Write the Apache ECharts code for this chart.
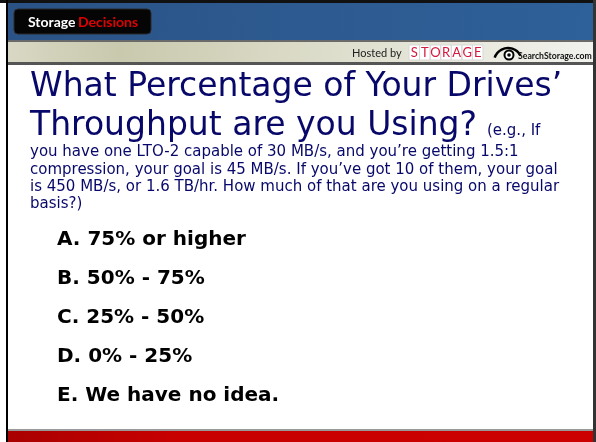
<!DOCTYPE html>
<html><head><meta charset="utf-8">
<script src="https://cdn.jsdelivr.net/npm/echarts@6/dist/echarts.min.js"></script>
<style>html,body{margin:0;padding:0;background:#fff}#c{width:596px;height:442px}</style>
</head><body><div id="c"></div>
<script>
// Slide content
const brand = ["Storage ", "Decisions"];
const hostedBy = "Hosted by";
const storageLetters = ["S","T","O","R","A","G","E"];
const siteName = "SearchStorage.com";
const titleLines = ["What Percentage of Your Drives\u2019", "Throughput are you Using?"];
const titleNote = "(e.g., If";
const bodyLines = [
  "you have one LTO-2 capable of 30 MB/s, and you\u2019re getting 1.5:1",
  "compression, your goal is 45 MB/s. If you\u2019ve got 10 of them, your goal",
  "is 450 MB/s, or 1.6 TB/hr. How much of that are you using on a regular",
  "basis?)"
];
const options = ["A. 75% or higher", "B. 50% - 75%", "C. 25% - 50%", "D. 0% - 25%", "E. We have no idea."];

const chart = echarts.init(document.getElementById('c'), null, {renderer: 'canvas'});
const F = 'DejaVu Sans, Verdana, sans-serif';
const L = 'Lato, "Open Sans", sans-serif';
const NAVY = '#08086a';
const g = [];
g.push({type:'rect', shape:{x:0,y:0,width:596,height:442}, style:{fill:'#fff'}});
// blue header
g.push({type:'rect', shape:{x:0,y:0,width:596,height:40}, style:{fill:new echarts.graphic.LinearGradient(0,0,1,1,[{offset:0,color:'#2a5285'},{offset:0.5,color:'#2d5a90'},{offset:1,color:'#2e6099'}])}});
g.push({type:'rect', shape:{x:0,y:0,width:596,height:3}, style:{fill:'#111'}});
// brand box
g.push({type:'rect', shape:{x:14,y:9,width:137,height:25,r:4}, style:{fill:'#050505', stroke:'#2a2a2a', lineWidth:1}});
g.push({type:'text', x:28, y:22.5, style:{text:brand[0], font:'bold 14px '+L, fill:'#fff', verticalAlign:'middle'}});
g.push({type:'text', x:78, y:22.5, style:{text:brand[1], font:'bold 14px '+L, fill:'#e00000', verticalAlign:'middle'}});
// beige band
g.push({type:'rect', shape:{x:0,y:40,width:596,height:2}, style:{fill:'#6a6a6a'}});
g.push({type:'rect', shape:{x:0,y:42,width:596,height:20}, style:{fill:new echarts.graphic.LinearGradient(0,0,1,0,[{offset:0,color:'#d9d9c6'},{offset:0.2,color:'#c9c9ae'},{offset:0.6,color:'#e0e0d0'},{offset:1,color:'#f2f2ee'}])}});
g.push({type:'rect', shape:{x:0,y:62,width:596,height:3}, style:{fill:'#555'}});
// hosted by
g.push({type:'text', x:352, y:53, style:{text:hostedBy, font:'11px '+L, fill:'#222', verticalAlign:'middle'}});
g.push({type:'rect', shape:{x:409,y:45,width:74,height:15}, style:{fill:'#fff'}});
storageLetters.forEach((s,i)=>{
  g.push({type:'rect', shape:{x:409+i*10.57,y:45,width:10.57,height:15}, style:{fill:'none', stroke:'#d8d8d8', lineWidth:1}});
  g.push({type:'text', x:409+i*10.57+5.3, y:52.5, style:{text:s, font:'13px '+L, fill:'#d4173e', align:'center', verticalAlign:'middle'}});
});
// eye logo
g.push({type:'arc', shape:{cx:508,cy:62,r:14,startAngle:Math.PI*1.1,endAngle:Math.PI*1.85}, style:{stroke:'#000', lineWidth:2.5, fill:'none'}});
g.push({type:'circle', shape:{cx:509,cy:55,r:4.5}, style:{fill:'#fff', stroke:'#000', lineWidth:2}});
g.push({type:'circle', shape:{cx:509,cy:55,r:1.8}, style:{fill:'#000'}});
g.push({type:'text', x:518, y:56, style:{text:siteName, font:'bold 8.7px '+L, fill:'#111', verticalAlign:'middle'}});
// title
g.push({type:'text', x:30, y:87, style:{text:titleLines[0], font:'33px '+F, fill:NAVY, verticalAlign:'middle'}});
g.push({type:'text', x:30, y:126, style:{text:titleLines[1], font:'33px '+F, fill:NAVY, verticalAlign:'middle'}});
g.push({type:'text', x:487, y:131.5, style:{text:titleNote, font:'15px '+F, fill:NAVY, verticalAlign:'middle'}});
bodyLines.forEach((t,i)=>{
  g.push({type:'text', x:30, y:152.5+i*17.3, style:{text:t, font:'15px '+F, fill:NAVY, verticalAlign:'middle'}});
});
options.forEach((t,i)=>{
  g.push({type:'text', x:57, y:240+i*39, style:{text:t, font:'bold 20px '+F, fill:'#000', verticalAlign:'middle'}});
});
// bottom red band
g.push({type:'rect', shape:{x:0,y:429,width:596,height:2}, style:{fill:'#999'}});
g.push({type:'rect', shape:{x:0,y:431,width:596,height:11}, style:{fill:new echarts.graphic.LinearGradient(0,0,1,0,[{offset:0,color:'#a80000'},{offset:0.3,color:'#c80000'},{offset:1,color:'#cc0000'}])}});
// side borders
g.push({type:'rect', shape:{x:0,y:3,width:6,height:439}, style:{fill:'#fff'}});
g.push({type:'rect', shape:{x:6,y:0,width:2,height:442}, style:{fill:'#000'}});
g.push({type:'rect', shape:{x:593,y:0,width:3,height:442}, style:{fill:'#333'}});
chart.setOption({animation:false, graphic:{elements:g}});
</script></body></html>
